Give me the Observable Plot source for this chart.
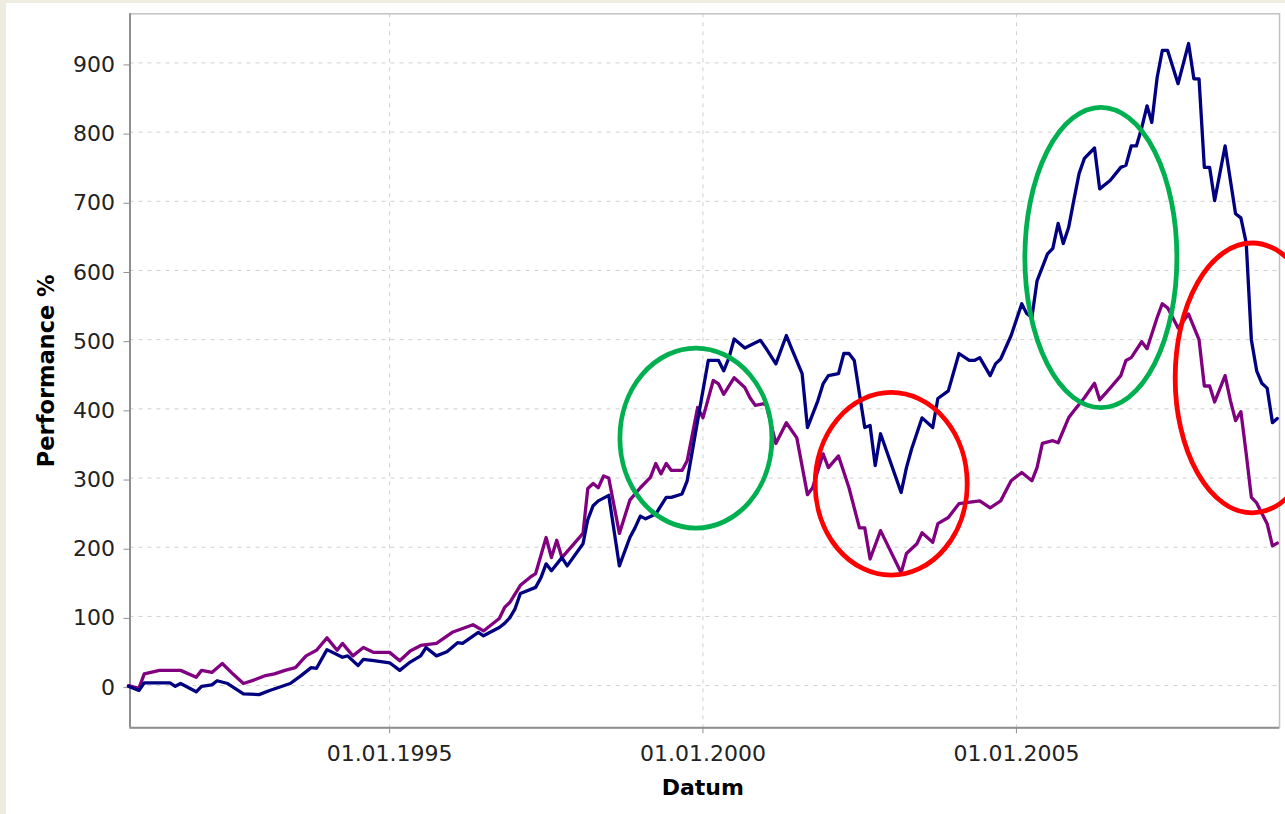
<!DOCTYPE html>
<html><head><meta charset="utf-8">
<script src="https://cdn.jsdelivr.net/npm/d3@7"></script>
<script src="https://cdn.jsdelivr.net/npm/@observablehq/plot@0.6"></script>
<style>
html,body{margin:0;padding:0;background:#eeebe0;width:1285px;height:814px;overflow:hidden}
#chart{position:absolute;left:6px;top:3px;width:1279px;height:811px;background:#fff}
#chart svg{overflow:visible}
</style></head><body><div id="chart"></div>
<script>
// ---- data (monthly points) ----
const blueDates = ["1990-11","1991-01","1991-02","1991-07","1991-08","1991-09","1991-12","1992-01","1992-03","1992-04","1992-06","1992-09","1992-12","1993-02","1993-06","1993-08","1993-10","1993-11","1994-01","1994-04","1994-05","1994-07","1994-08","1994-10","1995-01","1995-03","1995-05","1995-07","1995-08","1995-10","1995-12","1996-02","1996-03","1996-06","1996-07","1996-10","1996-11","1996-12","1997-01","1997-02","1997-05","1997-06","1997-07","1997-08","1997-10","1997-11","1998-02","1998-03","1998-04","1998-05","1998-07","1998-09","1998-11","1998-12","1999-01","1999-02","1999-04","1999-06","1999-07","1999-09","1999-10","1999-12","2000-02","2000-04","2000-05","2000-06","2000-07","2000-09","2000-12","2001-01","2001-03","2001-05","2001-06","2001-08","2001-09","2001-11","2001-12","2002-01","2002-03","2002-04","2002-05","2002-06","2002-07","2002-08","2002-09","2002-10","2002-11","2003-03","2003-04","2003-05","2003-07","2003-09","2003-10","2003-12","2004-02","2004-04","2004-05","2004-06","2004-08","2004-09","2004-10","2004-12","2005-02","2005-03","2005-04","2005-05","2005-07","2005-08","2005-09","2005-10","2005-11","2005-12","2006-01","2006-02","2006-04","2006-05","2006-07","2006-09","2006-10","2006-11","2006-12","2007-01","2007-02","2007-03","2007-04","2007-05","2007-06","2007-08","2007-10","2007-11","2007-12","2008-01","2008-02","2008-03","2008-05","2008-07","2008-08","2008-09","2008-10","2008-11","2008-12","2009-01","2009-02","2009-03"];
const blueValues = [-1,-7,4,4,-1,3,-9,-1,1,7,3,-12,-13,-7,3,14,26,25,52,41,43,29,38,36,33,22,34,43,55,43,49,62,61,77,72,84,90,98,111,133,142,156,176,166,185,173,205,240,260,267,275,173,214,228,245,241,248,272,272,277,296,383,470,470,455,474,501,488,499,488,465,506,487,451,373,412,436,448,451,480,480,470,422,373,376,318,364,279,315,342,387,373,415,426,480,470,470,474,448,465,472,506,552,538,532,585,624,632,668,639,662,701,740,762,777,718,730,749,752,780,780,806,838,814,879,918,918,870,928,877,877,749,749,701,780,682,676,640,500,455,437,430,380,386];

const purpleDates = ["1990-11","1991-01","1991-02","1991-05","1991-07","1991-09","1991-12","1992-01","1992-03","1992-05","1992-07","1992-09","1992-11","1993-01","1993-03","1993-05","1993-07","1993-09","1993-11","1994-01","1994-03","1994-04","1994-06","1994-08","1994-10","1995-01","1995-03","1995-05","1995-07","1995-10","1996-01","1996-05","1996-07","1996-10","1996-11","1996-12","1997-02","1997-04","1997-05","1997-07","1997-08","1997-09","1997-10","1998-02","1998-03","1998-04","1998-05","1998-06","1998-07","1998-09","1998-11","1999-01","1999-03","1999-04","1999-05","1999-06","1999-07","1999-09","1999-10","1999-12","2000-01","2000-03","2000-04","2000-05","2000-07","2000-09","2000-10","2000-11","2001-01","2001-03","2001-05","2001-07","2001-09","2001-10","2001-12","2002-01","2002-03","2002-05","2002-07","2002-08","2002-09","2002-11","2003-03","2003-04","2003-06","2003-07","2003-09","2003-10","2003-12","2004-02","2004-06","2004-08","2004-10","2004-12","2005-02","2005-04","2005-05","2005-06","2005-08","2005-09","2005-11","2005-12","2006-02","2006-04","2006-05","2006-07","2006-09","2006-10","2006-11","2007-01","2007-02","2007-04","2007-05","2007-06","2007-08","2007-10","2007-12","2008-01","2008-02","2008-03","2008-05","2008-06","2008-07","2008-08","2008-09","2008-10","2008-11","2008-12","2009-01","2009-02","2009-03"];
const purpleValues = [0,-4,17,22,22,22,12,22,19,32,17,3,8,14,17,22,26,43,51,69,51,61,43,55,48,48,36,50,58,61,77,88,79,97,113,120,145,157,162,214,185,210,185,220,285,292,286,303,300,220,268,286,301,321,306,321,311,311,325,402,387,441,436,421,445,431,416,405,408,350,380,358,276,286,335,315,332,286,228,228,183,224,163,191,205,221,207,234,243,263,267,257,267,296,308,296,315,350,354,351,387,397,416,437,413,430,448,470,474,497,487,532,552,546,517,537,500,433,433,410,448,412,383,396,335,272,264,249,234,202,206];

// axis ticks
const xTickDates = ["1995-01-01","2000-01-01","2005-01-01"];
const yTickValues = [0,100,200,300,400,500,600,700,800,900];

// highlight ellipses (centre date / value, half-width in days, half-height in %)
const ellipseDates = ["1999-11-24","2003-01-05","2006-05-11","2008-10-08"];
const ellipseValues = [357, 291, 618, 444];
const ellipseHalfDays = [443, 443, 443, 448];
const ellipseHalfValues = [130, 132, 217, 195];
const ellipseKinds = ["good","bad","good","bad"];

// ---- build ----
const pm = d3.utcParse("%Y-%m");
const pd = d3.utcParse("%Y-%m-%d");
const blue = blueDates.map((d,i)=>({date: pm(d), value: blueValues[i]}));
const purple = purpleDates.map((d,i)=>({date: pm(d), value: purpleValues[i]}));
const xDomain = [new Date(Date.UTC(1990,10,10)), new Date(Date.UTC(2009,2,14))];
const yDomain = [-61, 971];
const kindColor = {good: "#00b050", bad: "#ff0000"};

function ellipses(index, scales) {
  const g = d3.create("svg:g");
  ellipseDates.forEach((s,i)=>{
    const c = pd(s);
    const cx = scales.x(c), cy = scales.y(ellipseValues[i]);
    const rx = scales.x(new Date(c.getTime() + ellipseHalfDays[i]*864e5)) - cx;
    const ry = scales.y(0) - scales.y(ellipseHalfValues[i]);
    g.append("ellipse").attr("cx",cx).attr("cy",cy).attr("rx",rx).attr("ry",ry)
      .attr("fill","none").attr("stroke",kindColor[ellipseKinds[i]]).attr("stroke-width",4.8);
  });
  return g.node();
}

const chart = Plot.plot({
  width: 1279, height: 811,
  marginLeft: 123.5, marginRight: 6, marginTop: 10.3, marginBottom: 86.7,
  style: {fontFamily: "DejaVu Sans", fontSize: "22px", background: "white", color: "#222"},
  x: {type: "utc", domain: xDomain, label: null},
  y: {domain: yDomain, label: null},
  marks: [
    Plot.gridY(yTickValues, {stroke: "#cfcfcf", strokeOpacity: 1, strokeDasharray: "4,5"}),
    Plot.gridX(xTickDates.map(pd), {stroke: "#cfcfcf", strokeOpacity: 1, strokeDasharray: "4,5"}),
    Plot.frame({stroke: "#c2c2c2", strokeWidth: 1.5}),
    Plot.ruleX([xDomain[0]], {stroke: "#8f8f8f", strokeWidth: 2}),
    Plot.ruleY([yDomain[0]], {stroke: "#8f8f8f", strokeWidth: 2}),
    Plot.axisY(yTickValues, {tickSize: 6, tickPadding: 9, stroke: "#8f8f8f", fill: "#222", dy: 2, label: null}),
    Plot.axisX(xTickDates.map(pd), {tickSize: 6, tickPadding: 12, stroke: "#8f8f8f", fill: "#222", tickFormat: d3.utcFormat("%d.%m.%Y"), label: null}),
    Plot.line(purple, {x: "date", y: "value", stroke: "#800080", strokeWidth: 3.3}),
    Plot.line(blue, {x: "date", y: "value", stroke: "#000080", strokeWidth: 3.3}),
    ellipses,
    Plot.text(["Performance %"], {frameAnchor: "left", dx: -83.5, rotate: -90, textAnchor: "middle", lineAnchor: "middle", fontWeight: "bold", fontSize: 22.5, fill: "#000"}),
    Plot.text(["Datum"], {frameAnchor: "bottom", dx: -2, dy: 60, textAnchor: "middle", lineAnchor: "middle", fontWeight: "bold", fontSize: 22, fill: "#000"})
  ]
});
document.getElementById("chart").appendChild(chart);
</script></body></html>
